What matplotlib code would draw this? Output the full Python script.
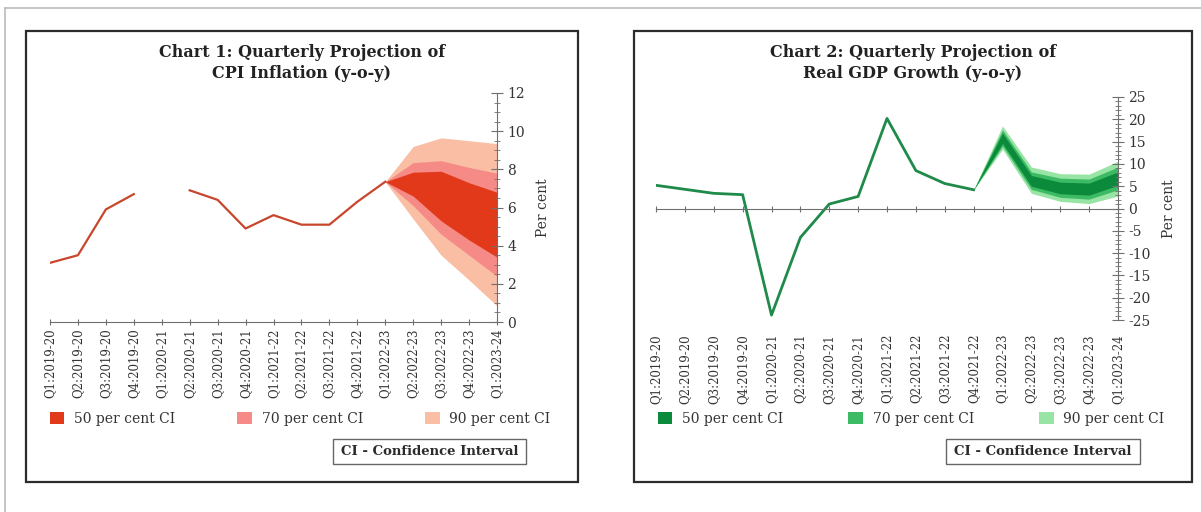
import numpy as np
import matplotlib
matplotlib.use("Agg")
import matplotlib.pyplot as plt
from matplotlib.patches import Rectangle, Patch
from matplotlib.lines import Line2D
from matplotlib.ticker import MultipleLocator

plt.rcParams['font.family'] = ['DejaVu Serif']
plt.rcParams['axes.unicode_minus'] = False

quarters = ['Q1:2019-20', 'Q2:2019-20', 'Q3:2019-20', 'Q4:2019-20',
            'Q1:2020-21', 'Q2:2020-21', 'Q3:2020-21', 'Q4:2020-21',
            'Q1:2021-22', 'Q2:2021-22', 'Q3:2021-22', 'Q4:2021-22',
            'Q1:2022-23', 'Q2:2022-23', 'Q3:2022-23', 'Q4:2022-23',
            'Q1:2023-24']

# CPI inflation (actuals, Q1:2020-21 missing)
cpi_actual = [3.1, 3.5, 5.9, 6.7, np.nan, 6.9, 6.4, 4.9,
              5.6, 5.1, 5.1, 6.3, 7.35]
# CPI fan from Q1:2022-23 to Q1:2023-24
cpi_fan_x = [12, 13, 14, 15, 16]
cpi_50_lo = [7.35, 6.6, 5.3, 4.3, 3.4]
cpi_50_hi = [7.35, 7.85, 7.9, 7.3, 6.8]
cpi_70_lo = [7.35, 6.1, 4.6, 3.5, 2.4]
cpi_70_hi = [7.35, 8.35, 8.45, 8.1, 7.8]
cpi_90_lo = [7.35, 5.4, 3.5, 2.2, 0.85]
cpi_90_hi = [7.35, 9.2, 9.65, 9.5, 9.35]

# Real GDP growth (actuals)
gdp_actual = [5.2, 4.3, 3.4, 3.1, -23.9, -6.5, 1.0, 2.7,
              20.2, 8.5, 5.6, 4.2]
# GDP fan from Q4:2021-22 to Q1:2023-24
gdp_fan_x = [11, 12, 13, 14, 15, 16]
gdp_50_lo = [4.2, 14.6, 5.0, 3.3, 3.0, 5.2]
gdp_50_hi = [4.2, 16.9, 7.4, 5.9, 5.7, 8.2]
gdp_70_lo = [4.2, 14.0, 4.3, 2.5, 2.1, 4.2]
gdp_70_hi = [4.2, 17.6, 8.2, 6.8, 6.6, 9.3]
gdp_90_lo = [4.2, 13.3, 3.4, 1.6, 1.1, 2.8]
gdp_90_hi = [4.2, 18.5, 9.3, 7.8, 7.7, 10.6]

W, H = 1201, 512
fig = plt.figure(figsize=(W / 100, H / 100), dpi=100)


def px_rect(x0, y0, x1, y1):
    # pixel box (top-left origin) -> figure fraction [l, b, w, h]
    return [x0 / W, 1 - y1 / H, (x1 - x0) / W, (y1 - y0) / H]


# faint outer frame (top and left)
fig.add_artist(Line2D([5 / W, 1], [1 - 8 / H, 1 - 8 / H], color='#bbbbbb', lw=1.2))
fig.add_artist(Line2D([5 / W, 5 / W], [0, 1 - 8 / H], color='#bbbbbb', lw=1.2))

tick_gray = '#6f6f6f'
text_col = '#333333'


def style_axis(ax, major, minor):
    for s in ['left', 'top']:
        ax.spines[s].set_visible(False)
    ax.spines['right'].set_color(tick_gray)
    ax.spines['bottom'].set_color(tick_gray)
    ax.yaxis.tick_right()
    ax.yaxis.set_major_locator(MultipleLocator(major))
    ax.yaxis.set_minor_locator(MultipleLocator(minor))
    ax.tick_params(axis='y', which='major', direction='inout', length=9,
                   color=tick_gray, labelsize=10, labelcolor=text_col, pad=3)
    ax.tick_params(axis='y', which='minor', direction='inout', length=4,
                   color=tick_gray)
    ax.tick_params(axis='x', direction='inout', length=5, color=tick_gray)
    ax.yaxis.set_label_position('right')
    ax.set_ylabel('Per cent', fontsize=10, color=text_col, labelpad=8)


def panel(x0, x1, title, colors, ci_box):
    fig.add_artist(Rectangle((x0 / W, 1 - 482 / H), (x1 - x0) / W, (482 - 31) / H,
                             transform=fig.transFigure, fill=False,
                             edgecolor='#2b2b2b', lw=1.6))
    fig.text((x0 + x1) / 2 / W, 1 - 63 / H, title, ha='center', va='center',
             fontsize=11.5, fontweight='bold', color='#222222', linespacing=1.3)
    handles = [Patch(facecolor=c, edgecolor='none') for c in colors]
    labels = ['50 per cent CI', '70 per cent CI', '90 per cent CI']
    fig.legend(handles, labels, loc='center left', ncol=3, mode='expand',
               bbox_to_anchor=(px_rect(x0 + 18, 408, x1 - 22, 430)),
               bbox_transform=fig.transFigure, frameon=False, fontsize=10,
               handlelength=1.05, handleheight=0.95, handletextpad=0.7,
               borderaxespad=0, labelcolor=text_col)
    bx0, bx1 = ci_box
    fig.add_artist(Rectangle((bx0 / W, 1 - 464 / H), (bx1 - bx0) / W, 25 / H,
                             transform=fig.transFigure, fill=False,
                             edgecolor='#666666', lw=1.0))
    fig.text((bx0 + bx1) / 2 / W, 1 - 451.5 / H, 'CI - Confidence Interval',
             ha='center', va='center', fontsize=9.5, fontweight='bold',
             color='#2b2b2b')


x = np.arange(len(quarters))

# ---- Chart 1: CPI ----
red_cols = ['#e2391b', '#f58a86', '#f9bea3']
panel(26, 578, 'Chart 1: Quarterly Projection of\nCPI Inflation (y-o-y)',
      red_cols, (333, 526))
ax1 = fig.add_axes(px_rect(50, 93, 497, 322))
ax1.fill_between(cpi_fan_x, cpi_90_lo, cpi_90_hi, color=red_cols[2], lw=0)
ax1.fill_between(cpi_fan_x, cpi_70_lo, cpi_70_hi, color=red_cols[1], lw=0)
ax1.fill_between(cpi_fan_x, cpi_50_lo, cpi_50_hi, color=red_cols[0], lw=0)
ax1.plot(x[:len(cpi_actual)], cpi_actual, color='#c8462c', lw=1.6)
ax1.set_xlim(0, 16)
ax1.set_ylim(0, 12)
style_axis(ax1, 2, 0.5)
ax1.set_xticks(x)
ax1.set_xticklabels(quarters, rotation=90, fontsize=8.5, color=text_col)
ax1.tick_params(axis='x', pad=2)

# ---- Chart 2: GDP ----
green_cols = ['#0c8a3c', '#3dba64', '#98e4a4']
panel(634, 1192, 'Chart 2: Quarterly Projection of\nReal GDP Growth (y-o-y)',
      green_cols, (946, 1140))
ax2 = fig.add_axes(px_rect(656, 97, 1118, 320))
ax2.fill_between(gdp_fan_x, gdp_90_lo, gdp_90_hi, color=green_cols[2], lw=0)
ax2.fill_between(gdp_fan_x, gdp_70_lo, gdp_70_hi, color=green_cols[1], lw=0)
ax2.fill_between(gdp_fan_x, gdp_50_lo, gdp_50_hi, color=green_cols[0], lw=0)
ax2.plot(x[:len(gdp_actual)], gdp_actual, color='#1f8a4a', lw=2.0)
ax2.set_xlim(0, 16)
ax2.set_ylim(-25, 25)
style_axis(ax2, 5, 1)
ax2.spines['bottom'].set_position(('data', 0))
ax2.set_xticks(x)
ax2.tick_params(axis='x', labelbottom=False)
sec = ax2.secondary_xaxis('bottom')
sec.set_xticks(x)
sec.set_xticklabels(quarters, rotation=90, fontsize=8.5, color=text_col)
sec.tick_params(axis='x', length=0, pad=10)
sec.spines['bottom'].set_visible(False)

fig.savefig('out.png', dpi=100, facecolor='white')
